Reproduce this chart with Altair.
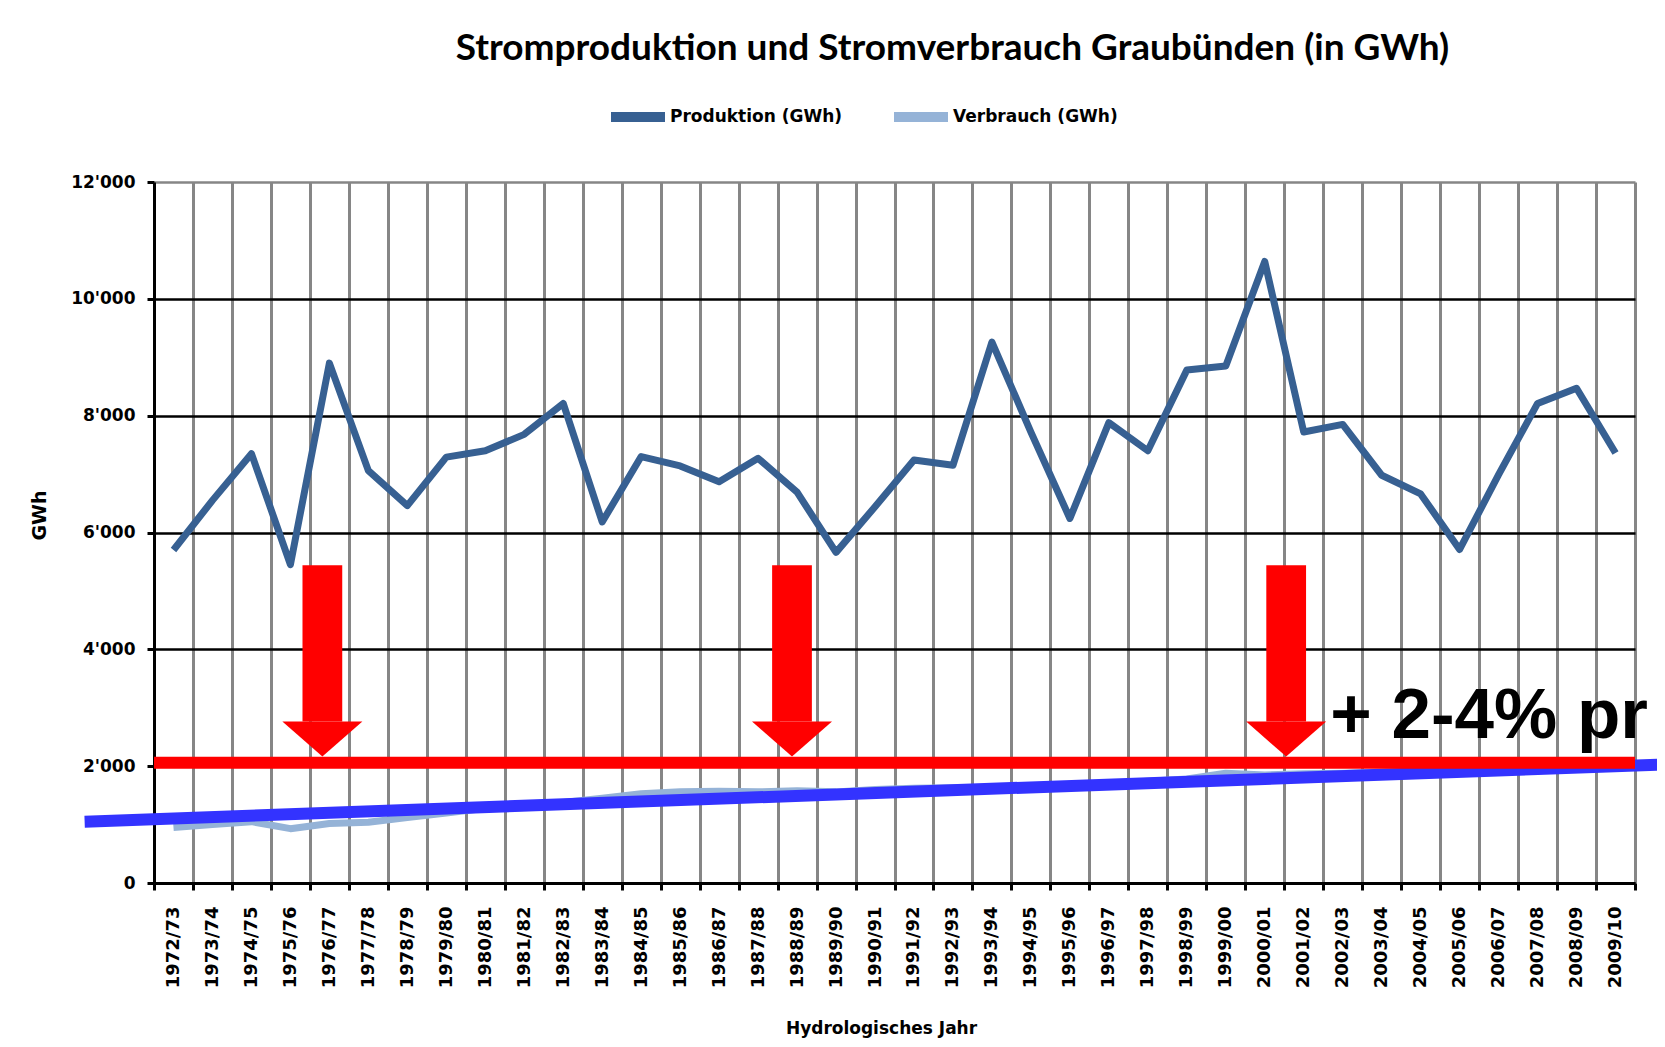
import altair as alt
import pandas as pd

# ---------------- data ----------------
years = ["1972/73", "1973/74", "1974/75", "1975/76", "1976/77", "1977/78", "1978/79",
         "1979/80", "1980/81", "1981/82", "1982/83", "1983/84", "1984/85", "1985/86",
         "1986/87", "1987/88", "1988/89", "1989/90", "1990/91", "1991/92", "1992/93",
         "1993/94", "1994/95", "1995/96", "1996/97", "1997/98", "1998/99", "1999/00",
         "2000/01", "2001/02", "2002/03", "2003/04", "2004/05", "2005/06", "2006/07",
         "2007/08", "2008/09", "2009/10"]

produktion = [5700, 6550, 7350, 5450, 8900, 7060, 6460, 7290, 7400, 7680, 8210,
              6180, 7300, 7140, 6870, 7270, 6690, 5660, 6440, 7240, 7150, 9260,
              7720, 6240, 7880, 7400, 8780, 8850, 10640, 7720, 7850, 6980, 6660,
              5710, 6990, 8210, 8470, 7360]

verbrauch = [950, 1000, 1050, 930, 1020, 1040, 1120, 1200, 1280, 1330, 1380,
             1450, 1530, 1560, 1570, 1560, 1580, 1560, 1600, 1620, 1630, 1640,
             1660, 1680, 1700, 1740, 1780, 1880, 1850, 1870, 1880, 1900, 1920,
             1940, 1930, 1950, 1960, 1970]

series_names = ["Produktion (GWh)", "Verbrauch (GWh)"]
series_colors = ["#376092", "#95B3D7"]

# hand-drawn annotations (in data units: x = year index, y = GWh)
trend_x = [-2.28, 38.3]
trend_y = [1049, 2031]

level_x = [-0.5, 37.5]
level_y = [2060]

arrow_x = [3.82, 15.87, 28.55]
arrow_shaft_top = 5440
arrow_head_base = 2766
arrow_tip = 2160
arrow_shaft_half = 0.51

note_text = "+ 2-4% pr"
note_x = [29.68]
note_y = [2481]

y_ticks = [0, 2000, 4000, 6000, 8000, 10000, 12000]

# ---------------- tables ----------------
n = len(years)
lines_df = pd.DataFrame({
    "i": list(range(n)) * 2,
    "v": produktion + verbrauch,
    "serie": [series_names[0]] * n + [series_names[1]] * n,
})
trend_df = pd.DataFrame({"i": trend_x, "v": trend_y})
level_df = pd.DataFrame({"i": [level_x[0]], "i2": [level_x[1]], "v": level_y})
shaft_df = pd.DataFrame({
    "i": [a - arrow_shaft_half for a in arrow_x],
    "i2": [a + arrow_shaft_half for a in arrow_x],
    "v": [arrow_shaft_top] * len(arrow_x),
    "v2": [arrow_head_base] * len(arrow_x),
})
head_df = pd.DataFrame({
    "i": arrow_x,
    "v": [(arrow_head_base + arrow_tip) / 2] * len(arrow_x),
})
note_df = pd.DataFrame({"i": note_x, "v": note_y, "t": [note_text]})

# ---------------- scales / axes ----------------
xscale = alt.Scale(domain=[-0.5, n - 0.5], nice=False, zero=False)
yscale = alt.Scale(domain=[0, 12000], nice=False)

tick_vals = [k / 2 - 0.5 for k in range(2 * n + 1)]
labels_js = "[" + ",".join("'" + y + "'" for y in years) + "]"
boundary_test = "abs(datum.value - round(datum.value)) > 0.25"

x_axis = alt.Axis(
    values=tick_vals,
    labelExpr=boundary_test + " ? '' : " + labels_js + "[round(datum.value)]",
    labelAngle=270,
    labelFont="DejaVu Sans", labelFontWeight="bold", labelFontSize=18,
    labelColor="black", labelPadding=16, labelOverlap=False, labelFlush=False,
    tickSize=7, tickWidth=3, tickColor="black",
    tickOpacity={"condition": {"test": boundary_test, "value": 1}, "value": 0},
    grid=True, gridColor="#868686", gridWidth=3,
    gridOpacity={"condition": {"test": boundary_test, "value": 1}, "value": 0},
    domainColor="black", domainWidth=3,
    title="Hydrologisches Jahr", titleFont="DejaVu Sans", titleFontWeight="bold",
    titleFontSize=17, titleColor="black",
    titleX=727, titleY=150, titleAlign="center", titleBaseline="alphabetic",
)

y_axis = alt.Axis(
    values=y_ticks,
    labelExpr="replace(format(datum.value, ','), ',', \"'\")",
    labelFont="DejaVu Sans", labelFontWeight="bold", labelFontSize=17,
    labelColor="black", labelPadding=12,
    tickSize=7, tickWidth=3, tickColor="black",
    grid=True, gridWidth=2.5,
    gridColor={"condition": {"test": "datum.value >= 12000", "value": "#868686"}, "value": "black"},
    domainColor="black", domainWidth=3,
    title="GWh", titleFont="DejaVu Sans", titleFontWeight="bold",
    titleFontSize=19, titleColor="black", titleAngle=270,
    titleX=-115, titleY=333, titleAlign="center", titleBaseline="middle",
)

X = alt.X("i:Q", scale=xscale, axis=x_axis)
Y = alt.Y("v:Q", scale=yscale, axis=y_axis)

# ---------------- layers ----------------
lines = alt.Chart(lines_df).mark_line(strokeWidth=7, strokeJoin="round").encode(
    x=X,
    y=Y,
    color=alt.Color(
        "serie:N",
        scale=alt.Scale(domain=series_names, range=series_colors),
        legend=alt.Legend(
            orient="none", legendX=452, legendY=-97, direction="horizontal",
            title=None, labelFont="DejaVu Sans", labelFontSize=17,
            labelFontWeight="bold", labelColor="black", labelLimit=0,
            symbolType="stroke", symbolSize=2916, symbolStrokeWidth=10,
            labelOffset=0, columnPadding=31, padding=0,
        ),
    ),
)

trend = alt.Chart(trend_df).mark_line(color="#3333FF", strokeWidth=12, strokeCap="butt").encode(
    x=X, y=Y,
)

level = alt.Chart(level_df).mark_rule(color="#FF0000", strokeWidth=12, strokeCap="butt").encode(
    x=X, x2="i2:Q", y=Y,
)

shafts = alt.Chart(shaft_df).mark_rect(color="#FF0000").encode(
    x=X, x2="i2:Q", y=Y, y2="v2:Q",
)

heads = alt.Chart(head_df).mark_point(
    shape="M-1,-0.4375L1,-0.4375L0,0.4375Z", filled=True, color="#FF0000",
    opacity=1, size=6400, strokeWidth=0,
).encode(x=X, y=Y)

note = alt.Chart(note_df).mark_text(
    font="Liberation Sans", fontSize=71, fontWeight="bold", color="black",
    align="left", baseline="alphabetic",
).encode(x=X, y=Y, text="t:N")

chart = alt.layer(lines, trend, level, shafts, heads, note).properties(
    width=1481,
    height=701,
    autosize=alt.AutoSizeParams(type="none"),
    padding={"left": 146, "top": 174, "right": 22, "bottom": 156},
    title=alt.Title(
        "Stromproduktion und Stromverbrauch Graubünden (in GWh)",
        font="Lato", fontSize=37, fontWeight="bold", color="black",
        anchor="middle", dx=58, dy=37, offset=25, baseline="alphabetic",
    ),
    background="white",
).configure_view(strokeWidth=0)

chart.save("out.html", embed_options={"renderer": "svg", "actions": False})
